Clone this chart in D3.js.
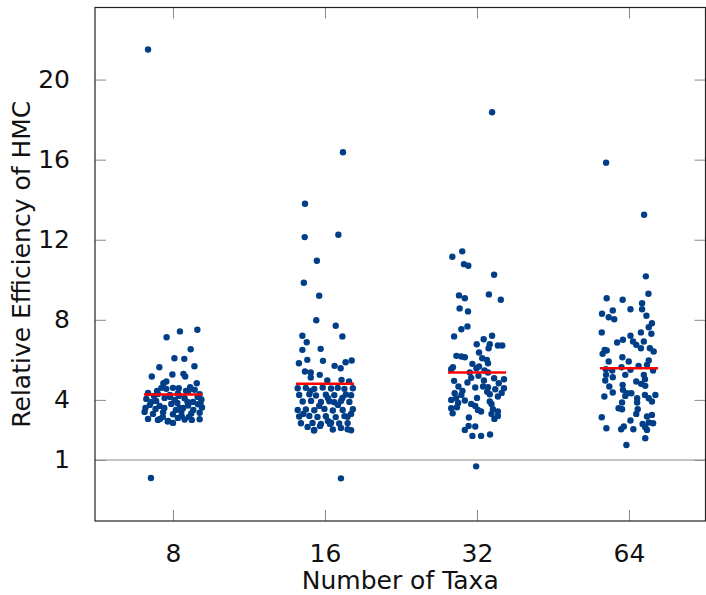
<!doctype html>
<html>
<head>
<script src="https://d3js.org/d3.v7.min.js"></script>
<style>
  body { margin: 0; background: #fff; }
  text { font-family: "DejaVu Sans", sans-serif; fill: #111; }
</style>
</head>
<body>
<svg id="chart" width="706" height="595"></svg>
<script>
// categories and y ticks
var taxa = ["8", "16", "32", "64"];
var yTicks = [1, 4, 8, 12, 16, 20];
var refLine = 1;

// medians (red bars)
var medians = [4.27, 4.8, 5.37, 5.58];

// jitter (-1..1) and value for every point, one pair of arrays per group
var jit8 = [-0.86,-0.76,-0.22,0.24,0.84,0.61,0.05,0.39,-0.47,0.74,-0.73,-0.02,0.36,0.42,-0.33,-0.23,0.82,0.59,
  -0.4,-0.23,0.0,0.2,0.62,0.75,-0.86,-0.52,-0.11,0.17,0.52,0.92,-0.92,-0.58,-0.29,0.06,0.4,0.69,0.98,
  -0.8,-0.46,-0.06,0.23,0.52,0.86,1.0,-0.98,-0.69,-0.34,0.0,0.29,0.63,0.92,-0.86,-0.52,-0.17,0.17,0.4,0.92,-0.18,
  -0.6,0.1,0.5,-0.1,0.3,-0.35,0.7,-0.75,0.45,-0.55,0.15,0.85,-0.95,0.55,0.0,-0.3,0.35,-0.65,0.95,0.2,-0.45,0.65];
var val8 = [21.5,0.1,7.13,7.42,7.5,6.53,6.08,6.05,5.63,5.68,5.17,5.27,5.3,5.17,4.83,4.92,4.83,4.63,
  4.6,4.55,4.6,4.58,4.55,4.5,4.35,4.3,4.25,4.32,4.4,4.28,4.05,3.95,4.1,4.0,4.08,3.9,4.02,
  3.75,3.7,3.8,3.6,3.72,3.78,3.62,3.4,3.3,3.38,3.28,3.42,3.32,3.36,3.05,3.0,2.95,3.1,3.02,3.03,2.92,
  3.55,3.5,3.9,4.15,3.2,3.15,3.5,3.9,4.45,4.45,3.85,4.15,3.6,3.15,2.85,3.6,3.6,4.2,3.85,4.2,3.05,3.0];

var jit16 = [0.62,-0.69,-0.7,0.46,-0.28,-0.73,-0.2,-0.3,0.37,-0.78,0.6,-0.63,-0.78,-0.15,-0.61,-0.9,-0.07,0.33,0.71,0.92,
  0.54,-0.69,-0.49,-0.18,-0.49,0.08,0.57,0.83,
  -0.94,-0.66,-0.37,-0.08,0.21,0.44,0.67,0.96,-0.89,-0.54,-0.31,0.03,0.32,0.72,0.9,
  -0.77,-0.48,-0.14,0.15,0.32,0.55,0.84,-0.94,-0.66,-0.37,-0.02,0.27,0.61,0.96,
  -0.89,-0.54,-0.26,0.03,0.37,0.67,0.78,-0.83,-0.43,-0.14,0.21,0.49,0.78,-0.37,0.27,0.9,
  -0.38,0.78,0.17,-0.17,0.55,-0.5,0.1,0.6,-0.2,0.45,-0.75,0.9,0.1,-0.6,0.55];
var val16 = [16.37,13.8,12.13,12.25,10.95,9.85,9.2,7.98,7.7,7.2,7.17,6.88,6.5,6.55,6.0,5.83,5.95,5.7,5.88,5.97,
  5.58,5.42,5.37,5.25,5.12,4.97,5.0,4.92,
  4.58,4.6,4.55,4.62,4.57,4.6,4.55,4.58,4.25,4.28,4.22,4.26,4.24,4.27,4.23,
  3.92,3.95,3.9,3.93,3.88,3.94,3.9,3.5,3.52,3.48,3.55,3.47,3.5,3.53,
  3.17,3.2,3.15,3.18,3.14,3.19,3.16,2.83,2.85,2.8,2.86,2.82,2.84,2.5,2.52,2.48,
  2.47,2.53,2.8,2.7,0.08,4.45,4.1,4.1,3.7,3.75,3.3,3.3,2.95,2.65,2.6];

var jit32 = [0.52,-0.51,-0.85,-0.45,-0.3,0.59,-0.62,-0.42,0.41,0.82,-0.6,-0.31,-0.54,-0.33,-0.79,-0.01,0.23,0.52,0.44,0.72,
  0.87,0.4,0.07,-0.71,-0.54,-0.42,0.18,0.34,-0.16,0.38,-0.83,0.07,-0.02,-0.89,-0.25,0.26,0.38,
  0.59,0.93,0.24,-0.79,-0.33,0.75,-0.64,-0.06,0.21,0.38,0.93,0.63,-0.77,-0.54,0.44,0.72,-0.89,-0.72,-0.42,0.44,
  -0.2,-0.06,0.5,-0.89,-0.69,0.03,0.14,0.55,-0.84,0.72,0.72,0.5,-0.28,-0.42,-0.29,-0.06,-0.16,0.14,0.45,-0.03,
  -0.5,0.0,0.35,-0.2,0.6,-0.65,0.05,0.85];
var val32 = [18.37,11.42,11.15,10.78,10.7,10.25,9.22,9.08,9.27,9.0,8.57,8.42,7.53,7.67,7.17,6.78,7.03,7.2,6.78,6.72,
  6.72,6.58,6.37,6.2,6.17,6.13,6.08,6.0,5.8,5.83,5.63,5.67,5.58,5.53,5.37,5.47,5.37,
  5.08,5.03,4.97,4.95,4.87,4.83,4.67,4.62,4.67,4.63,4.58,4.53,4.33,4.25,4.28,4.17,4.0,4.08,3.97,3.92,
  3.8,3.7,3.8,3.58,3.63,3.5,3.42,3.53,3.33,3.42,3.2,3.3,3.12,2.5,2.7,2.67,2.2,2.2,2.27,0.68,
  4.45,4.1,4.4,5.1,3.05,3.85,5.2,4.35];

var jit64 = [-0.79,0.52,0.58,0.67,-0.77,-0.22,0.45,-0.93,-0.56,-0.7,-0.51,0.05,0.45,0.6,0.79,0.68,-0.94,0.77,0.41,0.05,
  -0.41,-0.21,0.14,0.25,0.51,0.41,0.72,0.85,-0.84,-0.77,-0.91,-0.23,-0.7,-0.01,0.68,-0.26,0.33,0.62,
  -0.8,-0.58,0.05,0.83,-0.79,-0.13,0.51,-0.56,0.55,-0.82,0.25,0.42,0.56,-0.68,-0.22,-0.21,-0.56,-0.07,0.08,0.55,0.91,
  -0.85,-0.13,0.28,0.68,0.79,-0.24,0.28,-0.36,-0.24,0.3,0.25,0.79,-0.94,0.05,0.62,0.47,0.68,0.83,0.56,0.62,
  -0.78,-0.18,-0.27,0.15,0.56,-0.09];
var val64 = [15.85,13.25,10.17,9.3,9.08,9.0,8.83,8.3,8.47,8.13,8.03,8.53,8.53,8.2,7.83,7.63,7.37,7.3,7.37,7.2,
  6.87,7.0,6.92,6.75,6.92,6.58,6.58,6.42,6.5,6.47,6.3,6.13,5.92,5.92,5.97,5.63,5.7,5.75,
  5.53,5.47,5.5,5.47,5.25,5.25,5.25,5.13,5.03,4.97,4.92,4.8,4.7,4.67,4.75,4.5,4.37,4.33,4.33,4.25,4.25,
  4.17,4.2,4.08,4.08,3.92,3.87,3.87,3.58,3.53,3.53,3.3,3.25,3.13,2.97,3.17,2.8,2.87,2.83,2.63,2.5,
  2.58,2.67,2.53,2.53,2.08,1.75];

var jitters = [jit8, jit16, jit32, jit64];
var values = [val8, val16, val32, val64];

var svg = d3.select("#chart");
var mLeft = 95, mRight = 705.5, mTop = 7.5, mBottom = 521;
var fontSize = "25px";

var x = d3.scalePoint().domain(taxa).range([mLeft, mRight + 1.5]).padding(0.513);
var y = d3.scaleLinear().domain([-2.05, 23.6]).range([mBottom, mTop]);
var jx = d3.scaleLinear().domain([-1, 1]).range([-29, 29]);

// reference line at 1
svg.append("line")
  .attr("x1", mLeft).attr("x2", mRight)
  .attr("y1", y(refLine)).attr("y2", y(refLine))
  .attr("stroke", "#c4c4c4").attr("stroke-width", 2);

// points
taxa.forEach(function(t, i) {
  var pts = values[i].map(function(v, k) { return { v: v, j: jitters[i][k] }; });
  svg.append("g").selectAll("circle")
    .data(pts).enter().append("circle")
    .attr("cx", function(d) { return x(t) + jx(d.j); })
    .attr("cy", function(d) { return y(d.v); })
    .attr("r", 3.2)
    .attr("fill", "#003f88");
});

// medians
svg.append("g").selectAll("line")
  .data(medians).enter().append("line")
  .attr("x1", function(d, i) { return x(taxa[i]) + jx(-1); })
  .attr("x2", function(d, i) { return x(taxa[i]) + jx(1); })
  .attr("y1", function(d) { return y(d); })
  .attr("y2", function(d) { return y(d); })
  .attr("stroke", "#ff0000").attr("stroke-width", 2.5);

// axes (ticks inward, mirrored)
var tickLen = 11;
var bAxis = svg.append("g").attr("transform", "translate(0," + mBottom + ")")
  .call(d3.axisBottom(x).tickSizeInner(-tickLen).tickSizeOuter(0).tickPadding(tickLen + 12));
var tAxis = svg.append("g").attr("transform", "translate(0," + mTop + ")")
  .call(d3.axisTop(x).tickSizeInner(-tickLen).tickSizeOuter(0).tickFormat(""));
var lAxis = svg.append("g").attr("transform", "translate(" + mLeft + ",0)")
  .call(d3.axisLeft(y).tickValues(yTicks).tickSizeInner(-tickLen).tickSizeOuter(0).tickPadding(tickLen + 14));
var rAxis = svg.append("g").attr("transform", "translate(" + mRight + ",0)")
  .call(d3.axisRight(y).tickValues(yTicks).tickSizeInner(-tickLen).tickSizeOuter(0).tickFormat(""));

[bAxis, tAxis, lAxis, rAxis].forEach(function(a) {
  a.select(".domain").remove();
  a.selectAll(".tick line").attr("stroke", "#8a8a8a").attr("stroke-width", 1);
  a.selectAll(".tick text").style("font-size", fontSize).style("font-family", "'DejaVu Sans', sans-serif").attr("fill", "#111");
});

// frame
svg.append("rect")
  .attr("x", mLeft).attr("y", mTop)
  .attr("width", mRight - mLeft).attr("height", mBottom - mTop)
  .attr("fill", "none").attr("stroke", "#222").attr("stroke-width", 1.2);

// titles
svg.append("text")
  .attr("x", (mLeft + mRight) / 2).attr("y", 589)
  .attr("text-anchor", "middle")
  .style("font-size", fontSize)
  .text("Number of Taxa");

svg.append("text")
  .attr("transform", "translate(30," + ((mTop + mBottom) / 2) + ") rotate(-90)")
  .attr("text-anchor", "middle")
  .style("font-size", fontSize)
  .text("Relative Efficiency of HMC");
</script>
</body>
</html>
